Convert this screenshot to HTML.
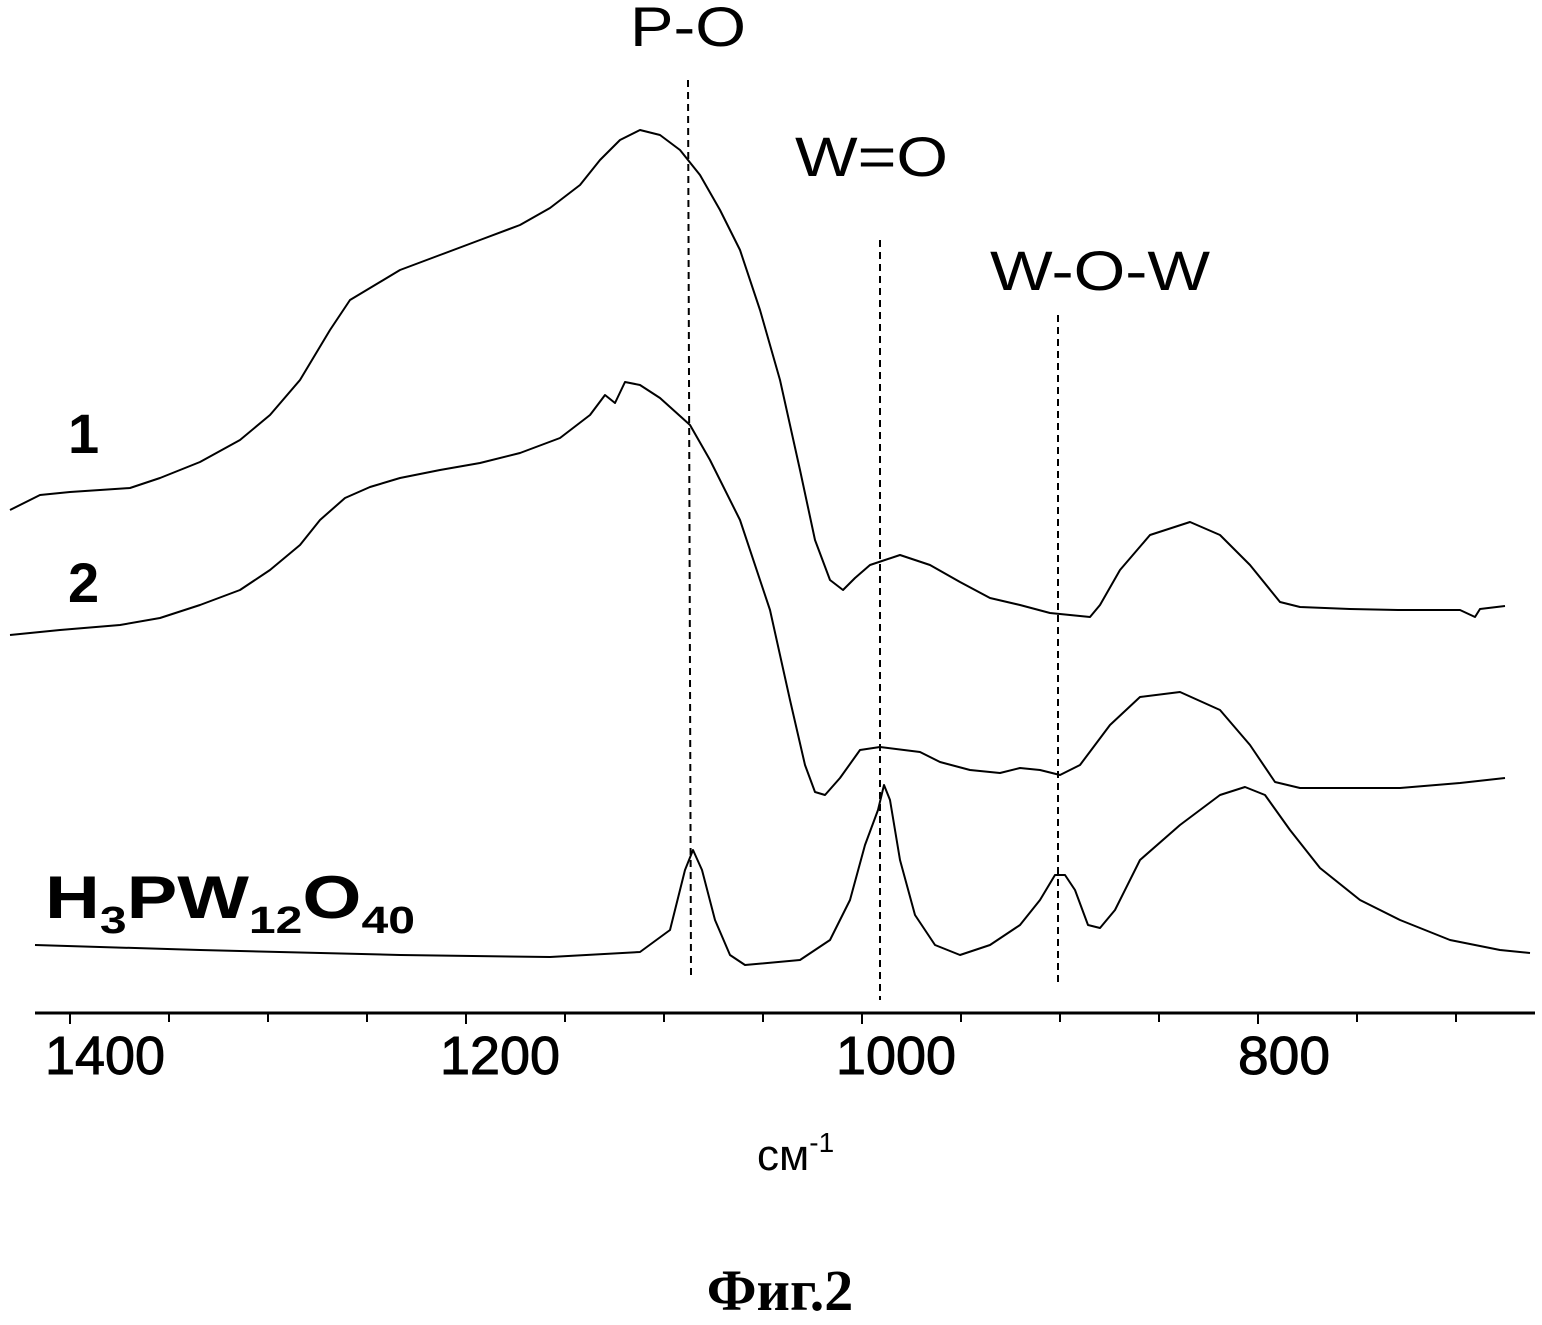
<!DOCTYPE html>
<html><head><meta charset="utf-8"><style>
html,body{margin:0;padding:0;background:#fff;}
</style></head><body>
<svg width="1542" height="1320" viewBox="0 0 1542 1320" xmlns="http://www.w3.org/2000/svg" font-family="Liberation Sans, Arial, sans-serif">
<rect width="1542" height="1320" fill="#fff"/>
<g fill="none" stroke="#000" stroke-width="2" stroke-linejoin="round">
<polyline points="10,510 40,495 70,492 100,490 130,488 160,478 200,462 240,440 270,415 300,380 330,330 350,300 375,285 400,270 440,255 480,240 520,225 550,208 580,185 600,160 620,140 640,130 660,135 680,150 700,175 720,210 740,250 760,310 780,380 800,470 815,540 830,580 843,590 855,578 870,565 900,555 930,565 960,582 990,598 1020,605 1050,613 1070,615 1090,617 1100,605 1120,570 1150,535 1190,522 1220,535 1250,565 1280,602 1300,607 1350,609 1400,610 1460,610 1475,617 1480,609 1505,606"/>
<polyline points="10,635 60,630 120,625 160,618 200,605 240,590 270,570 300,545 320,520 345,498 370,487 400,478 440,470 480,463 520,453 560,438 590,415 605,395 615,403 625,382 640,385 660,398 690,425 710,460 740,520 770,610 790,700 805,765 815,792 825,795 840,778 860,750 880,747 920,752 940,762 970,770 1000,773 1020,768 1040,770 1060,775 1080,765 1110,725 1140,697 1180,692 1220,710 1250,745 1275,782 1300,788 1400,788 1460,783 1505,778"/>
<polyline points="35,945 200,950 400,955 550,957 640,952 670,930 685,870 693,850 702,870 715,920 730,955 745,965 800,960 830,940 850,900 865,845 878,810 884,785 890,800 900,860 915,915 935,945 960,955 990,945 1020,925 1040,900 1055,875 1065,875 1075,890 1088,925 1100,928 1115,910 1140,860 1180,825 1220,795 1245,787 1265,795 1290,830 1320,868 1360,900 1400,920 1450,940 1500,950 1530,953"/>
</g>
<g stroke="#000" stroke-width="2" stroke-dasharray="7,5">
<line x1="688" y1="80" x2="691" y2="975"/>
<line x1="880" y1="240" x2="880" y2="1000"/>
<line x1="1058" y1="315" x2="1058" y2="985"/>
</g>
<line x1="35" y1="1013" x2="1535" y2="1013" stroke="#000" stroke-width="3"/>
<g stroke="#000" stroke-width="2">
<line x1="70" y1="1013" x2="70" y2="1024"/><line x1="169" y1="1013" x2="169" y2="1022"/><line x1="268" y1="1013" x2="268" y2="1022"/><line x1="367" y1="1013" x2="367" y2="1022"/><line x1="466" y1="1013" x2="466" y2="1024"/><line x1="565" y1="1013" x2="565" y2="1022"/><line x1="664" y1="1013" x2="664" y2="1022"/><line x1="763" y1="1013" x2="763" y2="1022"/><line x1="862" y1="1013" x2="862" y2="1024"/><line x1="961" y1="1013" x2="961" y2="1022"/><line x1="1060" y1="1013" x2="1060" y2="1022"/><line x1="1159" y1="1013" x2="1159" y2="1022"/><line x1="1258" y1="1013" x2="1258" y2="1024"/><line x1="1357" y1="1013" x2="1357" y2="1022"/><line x1="1456" y1="1013" x2="1456" y2="1022"/>
</g>
<g font-size="54" fill="#000" stroke="#000" stroke-width="1" lengthAdjust="spacingAndGlyphs">
<text x="45" y="1074" textLength="120" lengthAdjust="spacingAndGlyphs">1400</text>
<text x="440" y="1074" textLength="120" lengthAdjust="spacingAndGlyphs">1200</text>
<text x="836" y="1074" textLength="120" lengthAdjust="spacingAndGlyphs">1000</text>
<text x="1238" y="1074" textLength="92" lengthAdjust="spacingAndGlyphs">800</text>
</g>
<g font-size="56" fill="#000">
<text x="630" y="46" textLength="116" lengthAdjust="spacingAndGlyphs">P-O</text>
<text x="795" y="176" textLength="153" lengthAdjust="spacingAndGlyphs">W=O</text>
<text x="990" y="290" textLength="220" lengthAdjust="spacingAndGlyphs">W-O-W</text>
</g>
<text x="757" y="1170" font-size="44" fill="#000">см<tspan font-size="28" dy="-18">-1</tspan></text>
<g font-weight="bold" fill="#000">
<text x="68" y="453" font-size="56">1</text>
<text x="68" y="602" font-size="56">2</text>
<text x="45" y="918" font-size="60" textLength="370" lengthAdjust="spacingAndGlyphs">H<tspan font-size="38" dy="15">3</tspan><tspan dy="-15">PW</tspan><tspan font-size="38" dy="15">12</tspan><tspan dy="-15">O</tspan><tspan font-size="38" dy="15">40</tspan></text>
</g>
<text x="780" y="1310" font-size="58" font-weight="bold" text-anchor="middle" font-family="Liberation Serif, serif" fill="#000">Фиг.2</text>
</svg>
</body></html>
